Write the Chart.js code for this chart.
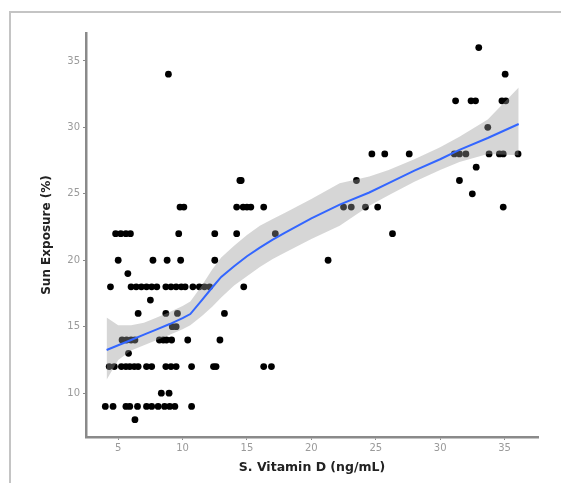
<!DOCTYPE html>
<html>
<head>
<meta charset="utf-8">
<script src="https://cdn.jsdelivr.net/npm/chart.js@4/dist/chart.umd.min.js"></script>
<style>
  html, body { margin: 0; padding: 0; background: #fff; }
  #wrap { position: relative; width: 561px; height: 483px; overflow: hidden; }
  #frame { position: absolute; left: 9px; top: 11px; width: 560px; height: 480px;
           border-top: 2px solid #c4c4c4; border-left: 2px solid #c4c4c4; pointer-events: none; }
  canvas { position: absolute; left: 0; top: 0; }
</style>
</head>
<body>
<div id="wrap">
  <canvas id="c" width="561" height="483"></canvas>
  <div id="frame"></div>
</div>
<script>
// ---- data ----
const vitaminD = [
  33.0,
  8.9, 35.05,
  31.2, 32.4, 32.75, 34.8, 35.1,
  33.7,
  24.7, 25.7, 27.6, 31.1, 31.5, 32.0, 33.8, 34.6, 34.9, 36.05,
  32.8,
  14.45, 14.55, 23.5, 31.5,
  32.5,
  9.8, 10.1, 14.2, 14.7, 15.0, 15.3, 16.3, 22.5, 23.1, 24.2, 25.15, 34.9,
  4.8, 5.2, 5.6, 5.95, 9.7, 12.5, 14.2, 17.2, 26.3,
  5.0, 7.7, 8.8, 9.85, 12.5, 21.3,
  5.75,
  4.4, 6.0, 6.4, 6.8, 7.2, 7.6, 8.0, 8.7, 9.1, 9.5, 9.9, 10.2, 10.8, 11.3, 11.7, 12.1, 14.75,
  7.5,
  6.55, 8.7, 9.6, 13.25,
  9.2, 9.5,
  5.3, 5.65, 6.0, 6.3, 8.2, 8.5, 8.75, 9.15, 10.4, 12.9,
  5.8,
  4.3, 4.7, 5.25, 5.6, 5.9, 6.25, 6.55, 7.2, 7.6, 8.7, 9.1, 9.5, 10.7, 12.4, 12.6, 16.3, 16.9,
  8.35, 8.95,
  4.0, 4.6, 5.6, 5.9, 6.5, 7.2, 7.6, 8.1, 8.6, 9.0, 9.4, 10.7,
  6.3
];
const sunExposure = [
  36,
  34, 34,
  32, 32, 32, 32, 32,
  30,
  28, 28, 28, 28, 28, 28, 28, 28, 28, 28,
  27,
  26, 26, 26, 26,
  25,
  24, 24, 24, 24, 24, 24, 24, 24, 24, 24, 24, 24,
  22, 22, 22, 22, 22, 22, 22, 22, 22,
  20, 20, 20, 20, 20, 20,
  19,
  18, 18, 18, 18, 18, 18, 18, 18, 18, 18, 18, 18, 18, 18, 18, 18, 18,
  17,
  16, 16, 16, 16,
  15, 15,
  14, 14, 14, 14, 14, 14, 14, 14, 14, 14,
  13,
  12, 12, 12, 12, 12, 12, 12, 12, 12, 12, 12, 12, 12, 12, 12, 12, 12,
  10, 10,
  9, 9, 9, 9, 9, 9, 9, 9, 9, 9, 9, 9,
  8
];
// smoothed fit (loess) and its confidence band
const fitX    = [4.1, 5, 6, 7, 8, 9, 10, 10.6, 11.5, 12.3, 13, 14, 15, 16, 17, 18, 20, 22.2, 24.5, 26, 28, 30, 31.5, 33.7, 36.1];
const fitY    = [13.25, 13.6, 14.0, 14.4, 14.8, 15.2, 15.65, 15.95, 17.0, 17.95, 18.75, 19.55, 20.3, 20.95, 21.55, 22.1, 23.15, 24.18, 25.1, 25.8, 26.75, 27.6, 28.3, 29.2, 30.25];
const bandLow = [11.0, 12.5, 13.2, 13.6, 14.0, 14.4, 14.8, 15.1, 15.8, 16.5, 17.2, 18.1, 18.8, 19.5, 20.1, 20.6, 21.6, 22.6, 24.1, 24.9, 25.9, 26.8, 27.4, 28.0, 27.9];
const bandHigh= [15.7, 15.1, 15.1, 15.3, 15.7, 16.1, 16.55, 16.9, 18.1, 19.3, 20.2, 21.1, 21.9, 22.6, 23.1, 23.6, 24.6, 25.8, 26.3, 26.8, 27.6, 28.5, 29.3, 30.6, 33.0];
const xTicks = [5, 10, 15, 20, 25, 30, 35];
const yTicks = [10, 15, 20, 25, 30, 35];

const pts = vitaminD.map((x, i) => ({x: x, y: sunExposure[i]}));
const line = fitX.map((x, i) => ({x: x, y: fitY[i]}));
const lo = fitX.map((x, i) => ({x: x, y: bandLow[i]}));
const hi = fitX.map((x, i) => ({x: x, y: bandHigh[i]}));

const axisColor = '#8a8a8a';
const tickFont = {family: 'DejaVu Sans', size: 10};
const titleFont = {family: 'DejaVu Sans', size: 12, weight: 'bold'};

new Chart(document.getElementById('c'), {
  type: 'scatter',
  data: {
    datasets: [
      {type: 'line', data: line, borderColor: '#3366FF', borderWidth: 2, pointRadius: 0, fill: false, tension: 0, order: 0},
      {type: 'line', data: lo, borderWidth: 0, borderColor: 'rgba(0,0,0,0)', pointRadius: 0, fill: false, tension: 0, order: 1},
      {type: 'line', data: hi, borderWidth: 0, borderColor: 'rgba(0,0,0,0)', pointRadius: 0, fill: '-1',
       backgroundColor: 'rgba(153,153,153,0.4)', tension: 0, order: 1},
      {data: pts, backgroundColor: '#000', borderColor: '#000', borderWidth: 0, pointRadius: 3.4, order: 2}
    ]
  },
  options: {
    responsive: false,
    animation: false,
    events: [],
    layout: {padding: {left: 0, top: 33, right: 23, bottom: 0}},
    plugins: {legend: {display: false}, tooltip: {enabled: false}},
    scales: {
      x: {
        type: 'linear', min: 2.5, max: 37.6,
        afterBuildTicks: s => { s.ticks = xTicks.map(v => ({value: v})); },
        afterFit: s => { s.height = 46; },
        border: {display: true, color: axisColor, width: 2.5},
        grid: {drawOnChartArea: false, drawTicks: true, tickLength: 3, color: axisColor},
        ticks: {color: '#9a9a9a', font: tickFont, padding: 2},
        title: {display: true, text: 'S. Vitamin D (ng/mL)', color: '#222', font: {family: 'DejaVu Sans', size: 12.5, weight: 'bold'}, padding: 8}
      },
      y: {
        type: 'linear', min: 6.7, max: 37.1,
        afterBuildTicks: s => { s.ticks = yTicks.map(v => ({value: v})); },
        afterFit: s => { s.width = 86; },
        border: {display: true, color: axisColor, width: 2.5},
        grid: {drawOnChartArea: false, drawTicks: true, tickLength: 3, color: axisColor},
        ticks: {color: '#9a9a9a', font: tickFont, padding: 3},
        title: {display: true, text: 'Sun Exposure (%)', color: '#222', font: titleFont, padding: 40}
      }
    }
  }
});
</script>
</body>
</html>
